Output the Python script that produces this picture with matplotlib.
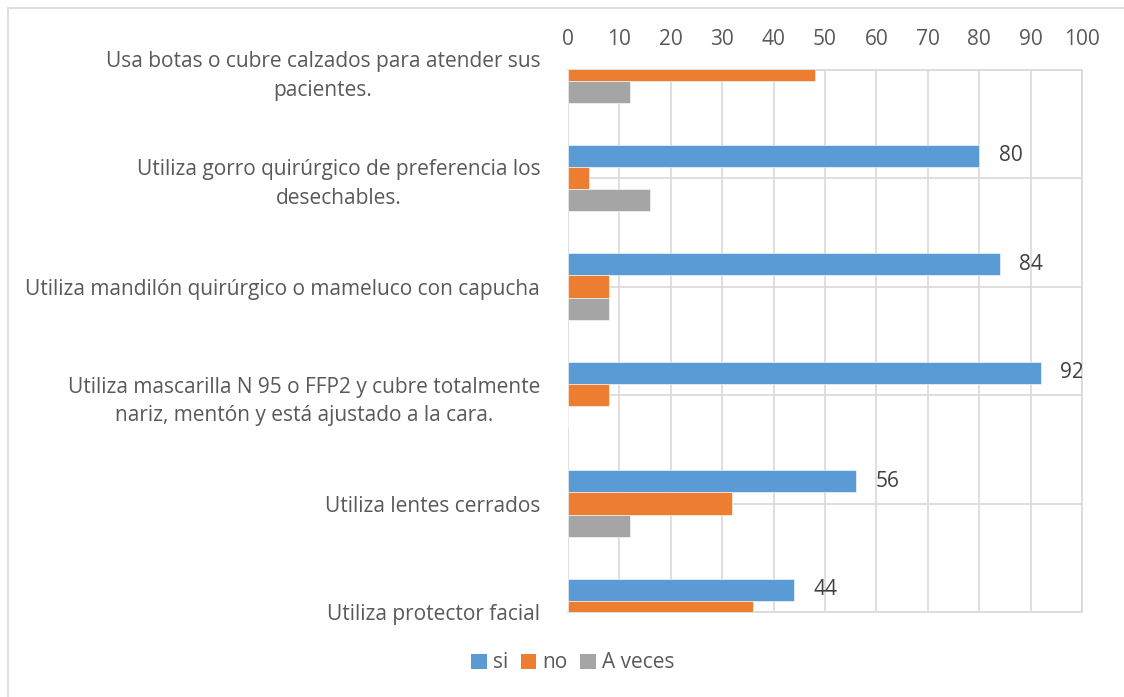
import matplotlib
matplotlib.use("Agg")
import matplotlib.pyplot as plt
import numpy as np
from matplotlib.lines import Line2D
from matplotlib.patches import Patch

categories = [
    "Usa botas o cubre calzados para atender sus\npacientes.",
    "Utiliza gorro quirúrgico de preferencia los\ndesechables.",
    "Utiliza mandilón quirúrgico o mameluco con capucha",
    "Utiliza mascarilla N 95 o FFP2 y cubre totalmente\nnariz, mentón y está ajustado a la cara.",
    "Utiliza lentes cerrados",
    "Utiliza protector facial",
]
si = [40, 80, 84, 92, 56, 44]
no = [48, 4, 8, 8, 32, 36]
a_veces = [12, 16, 8, 0, 12, 20]
series_names = ["si", "no", "A veces"]
xticks = [0, 10, 20, 30, 40, 50, 60, 70, 80, 90, 100]

colors = ["#5B9BD5", "#ED7D31", "#A5A5A5"]
text_color = "#595959"
grid_color = "#D9D9D9"
FONT = "Open Sans"
FS = 15

plt.rcParams['font.family'] = [FONT, 'DejaVu Sans']

fig = plt.figure(figsize=(11.24, 6.97), dpi=100)
L, R, T, B = 568, 1082, 69.5, 612
ax = fig.add_axes([L/1124, 1-B/697, (R-L)/1124, (B-T)/697])

y = np.arange(len(categories))
h = 0.203
offs = [-h, 0, h]
for vals, off, c, name in zip([si, no, a_veces], offs, colors, series_names):
    ax.barh(y + off, vals, height=h, color=c, label=name, zorder=3,
            edgecolor="white", linewidth=0.4)

ax.set_xlim(0, 100)
ax.set_ylim(len(categories) - 1, 0)

# data labels for the "si" series (only where the bar lies inside the plot area)
ylo, yhi = sorted(ax.get_ylim())
for yi, v in zip(y, si):
    yc = yi - h
    if ylo <= yc <= yhi:
        ax.text(v + 3.8, yc, str(v), va="center", ha="left", fontsize=FS,
                color="#404040", clip_on=True, zorder=4)

ax.set_xticks(xticks)
ax.set_xticklabels([str(t) for t in xticks])
ax.xaxis.tick_top()
ax.tick_params(axis="x", length=0, pad=14, labelsize=FS, labelcolor=text_color)
ax.set_yticks(y)
ax.set_yticklabels(categories, multialignment="center", linespacing=1.5)
ax.tick_params(axis="y", length=0, pad=20, labelsize=FS, labelcolor=text_color)
ax.grid(True, color=grid_color, linewidth=1.2, zorder=0)
ax.set_axisbelow(True)
for s in ax.spines.values():
    s.set_visible(True)
    s.set_color(grid_color)
    s.set_linewidth(1.2)
ax.spines["left"].set_visible(False)

handles = [Patch(facecolor=c, label=n) for c, n in zip(colors, series_names)]
fig.legend(handles=handles, loc="center", bbox_to_anchor=(573/1124, 1-663/697),
           ncol=3, frameon=False, fontsize=FS, labelcolor=text_color,
           handlelength=0.75, handleheight=0.75, handletextpad=0.3, columnspacing=0.6)

# chart frame (only left and top edges visible in the reference)
fig.add_artist(Line2D([8/1124, 8/1124], [0, 1-8/697], transform=fig.transFigure,
                      color="#D9D9D9", linewidth=1.2))
fig.add_artist(Line2D([8/1124, 1], [1-8/697, 1-8/697], transform=fig.transFigure,
                      color="#D9D9D9", linewidth=1.2))

fig.savefig("out.png", dpi=100, facecolor="white")
